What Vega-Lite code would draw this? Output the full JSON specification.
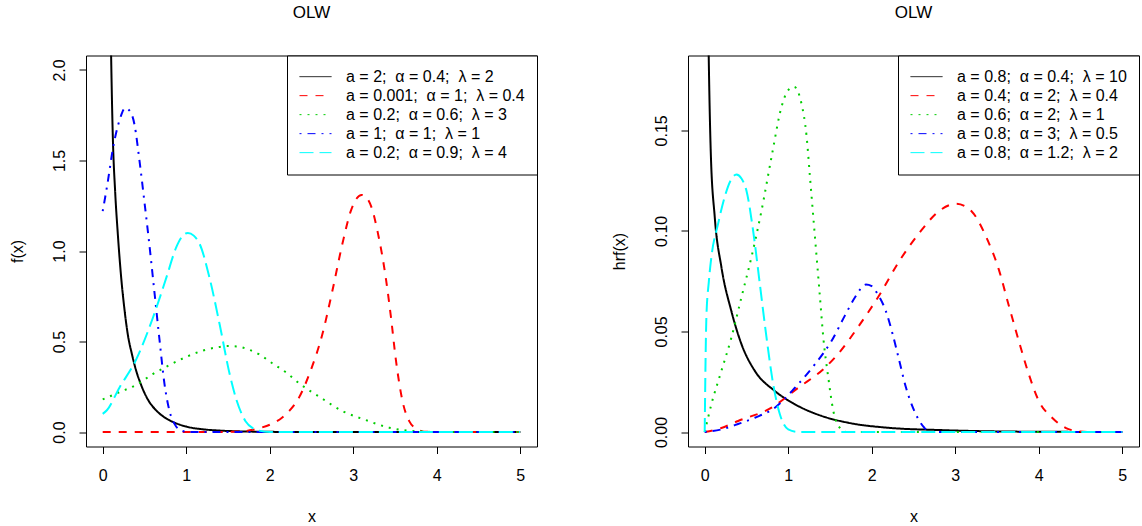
{
"$schema": "https://vega.github.io/schema/vega-lite/v6.json",
"autosize": {"type": "pad"},
"padding": {"left": 8, "top": 3.5, "right": 2, "bottom": 4},
"background": "white",
"bounds": "flush",
"spacing": 151,
"datasets": {
"leftLegend": [
{"c":1,"label":"a = 2;\u00a0\u00a0α = 0.4;\u00a0\u00a0λ = 2"},
{"c":2,"label":"a = 0.001;\u00a0\u00a0α = 1;\u00a0\u00a0λ = 0.4"},
{"c":3,"label":"a = 0.2;\u00a0\u00a0α = 0.6;\u00a0\u00a0λ = 3"},
{"c":4,"label":"a = 1;\u00a0\u00a0α = 1;\u00a0\u00a0λ = 1"},
{"c":5,"label":"a = 0.2;\u00a0\u00a0α = 0.9;\u00a0\u00a0λ = 4"}
],
"rightLegend": [
{"c":1,"label":"a = 0.8;\u00a0\u00a0α = 0.4;\u00a0\u00a0λ = 10"},
{"c":2,"label":"a = 0.4;\u00a0\u00a0α = 2;\u00a0\u00a0λ = 0.4"},
{"c":3,"label":"a = 0.6;\u00a0\u00a0α = 2;\u00a0\u00a0λ = 1"},
{"c":4,"label":"a = 0.8;\u00a0\u00a0α = 3;\u00a0\u00a0λ = 0.5"},
{"c":5,"label":"a = 0.8;\u00a0\u00a0α = 1.2;\u00a0\u00a0λ = 2"}
],
"left": [
{"c":1,"x":0.09,"y":2.4},{"c":1,"x":0.1,"y":2.1},{"c":1,"x":0.12,"y":1.65},{"c":1,"x":0.15,"y":1.32},{"c":1,"x":0.18,"y":1.1},{"c":1,"x":0.22,"y":0.86},{"c":1,"x":0.26,"y":0.68},{"c":1,"x":0.3,"y":0.54},{"c":1,"x":0.35,"y":0.43},{"c":1,"x":0.4,"y":0.34},{"c":1,"x":0.46,"y":0.26},{"c":1,"x":0.54,"y":0.18},{"c":1,"x":0.65,"y":0.115},{"c":1,"x":0.76,"y":0.075},{"c":1,"x":0.88,"y":0.048},{"c":1,"x":1.0,"y":0.03},{"c":1,"x":1.2,"y":0.015},{"c":1,"x":1.4,"y":0.008},{"c":1,"x":1.7,"y":0.003},{"c":1,"x":2.0,"y":0.001},{"c":1,"x":2.5,"y":0},{"c":1,"x":3,"y":0},{"c":1,"x":4,"y":0},{"c":1,"x":5,"y":0},
{"c":2,"x":0,"y":0},{"c":2,"x":0.5,"y":0},{"c":2,"x":1,"y":0},{"c":2,"x":1.5,"y":0.001},{"c":2,"x":1.7,"y":0.005},{"c":2,"x":1.8,"y":0.012},{"c":2,"x":1.9,"y":0.024},{"c":2,"x":2.0,"y":0.04},{"c":2,"x":2.15,"y":0.08},{"c":2,"x":2.25,"y":0.125},{"c":2,"x":2.35,"y":0.19},{"c":2,"x":2.49,"y":0.34},{"c":2,"x":2.63,"y":0.54},{"c":2,"x":2.75,"y":0.78},{"c":2,"x":2.87,"y":1.04},{"c":2,"x":2.97,"y":1.22},{"c":2,"x":3.04,"y":1.29},{"c":2,"x":3.1,"y":1.31},{"c":2,"x":3.16,"y":1.295},{"c":2,"x":3.22,"y":1.24},{"c":2,"x":3.29,"y":1.11},{"c":2,"x":3.39,"y":0.85},{"c":2,"x":3.45,"y":0.64},{"c":2,"x":3.51,"y":0.4},{"c":2,"x":3.59,"y":0.17},{"c":2,"x":3.67,"y":0.06},{"c":2,"x":3.77,"y":0.015},{"c":2,"x":3.85,"y":0.002},{"c":2,"x":4,"y":0},{"c":2,"x":4.5,"y":0},{"c":2,"x":5,"y":0},
{"c":3,"x":0,"y":0.18},{"c":3,"x":0.2,"y":0.22},{"c":3,"x":0.4,"y":0.26},{"c":3,"x":0.6,"y":0.32},{"c":3,"x":0.8,"y":0.37},{"c":3,"x":1.0,"y":0.415},{"c":3,"x":1.2,"y":0.45},{"c":3,"x":1.4,"y":0.47},{"c":3,"x":1.5,"y":0.475},{"c":3,"x":1.6,"y":0.473},{"c":3,"x":1.75,"y":0.455},{"c":3,"x":1.87,"y":0.43},{"c":3,"x":2.03,"y":0.38},{"c":3,"x":2.21,"y":0.324},{"c":3,"x":2.37,"y":0.263},{"c":3,"x":2.61,"y":0.19},{"c":3,"x":2.87,"y":0.116},{"c":3,"x":3.15,"y":0.066},{"c":3,"x":3.43,"y":0.024},{"c":3,"x":3.6,"y":0.01},{"c":3,"x":3.8,"y":0.003},{"c":3,"x":4,"y":0},{"c":3,"x":4.5,"y":0},{"c":3,"x":5,"y":0},
{"c":4,"x":0,"y":1.22},{"c":4,"x":0.06,"y":1.38},{"c":4,"x":0.12,"y":1.56},{"c":4,"x":0.2,"y":1.72},{"c":4,"x":0.27,"y":1.79},{"c":4,"x":0.33,"y":1.77},{"c":4,"x":0.38,"y":1.7},{"c":4,"x":0.44,"y":1.5},{"c":4,"x":0.5,"y":1.27},{"c":4,"x":0.56,"y":1.03},{"c":4,"x":0.62,"y":0.77},{"c":4,"x":0.68,"y":0.51},{"c":4,"x":0.74,"y":0.265},{"c":4,"x":0.8,"y":0.116},{"c":4,"x":0.86,"y":0.045},{"c":4,"x":0.92,"y":0.012},{"c":4,"x":1.0,"y":0.002},{"c":4,"x":1.1,"y":0},{"c":4,"x":2,"y":0},{"c":4,"x":3,"y":0},{"c":4,"x":4,"y":0},{"c":4,"x":5,"y":0},
{"c":5,"x":0,"y":0.1},{"c":5,"x":0.05,"y":0.12},{"c":5,"x":0.2,"y":0.245},{"c":5,"x":0.4,"y":0.4},{"c":5,"x":0.6,"y":0.63},{"c":5,"x":0.76,"y":0.85},{"c":5,"x":0.88,"y":1.02},{"c":5,"x":0.95,"y":1.08},{"c":5,"x":1.02,"y":1.1},{"c":5,"x":1.09,"y":1.085},{"c":5,"x":1.16,"y":1.04},{"c":5,"x":1.28,"y":0.85},{"c":5,"x":1.4,"y":0.595},{"c":5,"x":1.52,"y":0.32},{"c":5,"x":1.6,"y":0.18},{"c":5,"x":1.71,"y":0.06},{"c":5,"x":1.8,"y":0.02},{"c":5,"x":1.87,"y":0.008},{"c":5,"x":2,"y":0},{"c":5,"x":3,"y":0},{"c":5,"x":4,"y":0},{"c":5,"x":5,"y":0}
],
"right": [
{"c":1,"x":0.04,"y":0.21},{"c":1,"x":0.048,"y":0.187},{"c":1,"x":0.072,"y":0.14},{"c":1,"x":0.12,"y":0.107},{"c":1,"x":0.2,"y":0.082},{"c":1,"x":0.32,"y":0.06},{"c":1,"x":0.44,"y":0.0437},{"c":1,"x":0.6,"y":0.0304},{"c":1,"x":0.84,"y":0.0204},{"c":1,"x":1.08,"y":0.0138},{"c":1,"x":1.4,"y":0.008},{"c":1,"x":1.72,"y":0.0046},{"c":1,"x":2.2,"y":0.0021},{"c":1,"x":2.8,"y":0.001},{"c":1,"x":3.5,"y":0.0003},{"c":1,"x":4.2,"y":0.0001},{"c":1,"x":5,"y":0},
{"c":2,"x":0,"y":0},{"c":2,"x":0.2,"y":0.002},{"c":2,"x":0.4,"y":0.0055},{"c":2,"x":0.8,"y":0.0121},{"c":2,"x":1.12,"y":0.022},{"c":2,"x":1.44,"y":0.032},{"c":2,"x":1.6,"y":0.039},{"c":2,"x":1.85,"y":0.053},{"c":2,"x":2.09,"y":0.068},{"c":2,"x":2.33,"y":0.085},{"c":2,"x":2.57,"y":0.099},{"c":2,"x":2.81,"y":0.11},{"c":2,"x":3.01,"y":0.1135},{"c":2,"x":3.2,"y":0.1095},{"c":2,"x":3.37,"y":0.097},{"c":2,"x":3.52,"y":0.081},{"c":2,"x":3.64,"y":0.063},{"c":2,"x":3.76,"y":0.0454},{"c":2,"x":3.88,"y":0.0288},{"c":2,"x":4,"y":0.0155},{"c":2,"x":4.16,"y":0.0071},{"c":2,"x":4.32,"y":0.0021},{"c":2,"x":4.48,"y":0.0003},{"c":2,"x":4.6,"y":0},{"c":2,"x":5,"y":0},
{"c":3,"x":0,"y":0},{"c":3,"x":0.08,"y":0.0138},{"c":3,"x":0.2,"y":0.0304},{"c":3,"x":0.32,"y":0.047},{"c":3,"x":0.44,"y":0.067},{"c":3,"x":0.56,"y":0.087},{"c":3,"x":0.68,"y":0.11},{"c":3,"x":0.8,"y":0.1367},{"c":3,"x":0.92,"y":0.1617},{"c":3,"x":1.0,"y":0.17},{"c":3,"x":1.07,"y":0.1716},{"c":3,"x":1.16,"y":0.163},{"c":3,"x":1.22,"y":0.147},{"c":3,"x":1.26,"y":0.127},{"c":3,"x":1.3,"y":0.107},{"c":3,"x":1.34,"y":0.087},{"c":3,"x":1.38,"y":0.067},{"c":3,"x":1.42,"y":0.047},{"c":3,"x":1.48,"y":0.027},{"c":3,"x":1.54,"y":0.0105},{"c":3,"x":1.62,"y":0.002},{"c":3,"x":1.7,"y":0},{"c":3,"x":3,"y":0},{"c":3,"x":5,"y":0},
{"c":4,"x":0,"y":0},{"c":4,"x":0.2,"y":0.0013},{"c":4,"x":0.4,"y":0.004},{"c":4,"x":0.6,"y":0.0071},{"c":4,"x":0.84,"y":0.0121},{"c":4,"x":1.08,"y":0.022},{"c":4,"x":1.32,"y":0.0337},{"c":4,"x":1.52,"y":0.0454},{"c":4,"x":1.68,"y":0.058},{"c":4,"x":1.8,"y":0.067},{"c":4,"x":1.93,"y":0.0733},{"c":4,"x":2.0,"y":0.0725},{"c":4,"x":2.07,"y":0.0686},{"c":4,"x":2.17,"y":0.06},{"c":4,"x":2.25,"y":0.0487},{"c":4,"x":2.33,"y":0.0354},{"c":4,"x":2.41,"y":0.0221},{"c":4,"x":2.51,"y":0.0105},{"c":4,"x":2.63,"y":0.0021},{"c":4,"x":2.7,"y":0},{"c":4,"x":3,"y":0},{"c":4,"x":5,"y":0},
{"c":5,"x":0,"y":0},{"c":5,"x":0.01,"y":0.035},{"c":5,"x":0.02,"y":0.057},{"c":5,"x":0.05,"y":0.075},{"c":5,"x":0.08,"y":0.087},{"c":5,"x":0.16,"y":0.1035},{"c":5,"x":0.24,"y":0.117},{"c":5,"x":0.31,"y":0.125},{"c":5,"x":0.38,"y":0.128},{"c":5,"x":0.44,"y":0.126},{"c":5,"x":0.5,"y":0.12},{"c":5,"x":0.58,"y":0.1},{"c":5,"x":0.66,"y":0.0736},{"c":5,"x":0.74,"y":0.047},{"c":5,"x":0.82,"y":0.0238},{"c":5,"x":0.9,"y":0.0088},{"c":5,"x":1.0,"y":0.0013},{"c":5,"x":1.12,"y":0},{"c":5,"x":2,"y":0},{"c":5,"x":3,"y":0},{"c":5,"x":5,"y":0}
]
},
"hconcat": [
{
"width": 451,
"height": 391,
"title": {"text": "OLW"},
"data": {"name": "left"},
"transform": [{"lookup": "c", "from": {"data": {"name": "leftLegend"}, "key": "c", "fields": ["label"]}}],
"mark": {"type": "line", "clip": true, "strokeWidth": 2, "interpolate": "monotone"},
"encoding": {
"x": {"field": "x", "type": "quantitative", "scale": {"domain": [-0.2, 5.2], "nice": false, "zero": false}, "axis": {"values": [0,1,2,3,4,5], "format": "d", "title": "x"}},
"y": {"field": "y", "type": "quantitative", "scale": {"domain": [-0.08, 2.08], "nice": false, "zero": false}, "axis": {"values": [0,0.5,1,1.5,2], "format": ".1f", "title": "f(x)"}},
"color": {"field": "label", "type": "nominal", "scale": {"domain": ["a = 2;\u00a0\u00a0α = 0.4;\u00a0\u00a0λ = 2","a = 0.001;\u00a0\u00a0α = 1;\u00a0\u00a0λ = 0.4","a = 0.2;\u00a0\u00a0α = 0.6;\u00a0\u00a0λ = 3","a = 1;\u00a0\u00a0α = 1;\u00a0\u00a0λ = 1","a = 0.2;\u00a0\u00a0α = 0.9;\u00a0\u00a0λ = 4"], "range": ["#000000","#FF0000","#00CD00","#0000FF","#00FFFF"]}, "legend": {"title": null}},
"strokeDash": {"field": "label", "type": "nominal", "scale": {"domain": ["a = 2;\u00a0\u00a0α = 0.4;\u00a0\u00a0λ = 2","a = 0.001;\u00a0\u00a0α = 1;\u00a0\u00a0λ = 0.4","a = 0.2;\u00a0\u00a0α = 0.6;\u00a0\u00a0λ = 3","a = 1;\u00a0\u00a0α = 1;\u00a0\u00a0λ = 1","a = 0.2;\u00a0\u00a0α = 0.9;\u00a0\u00a0λ = 4"], "range": [[1,0],[8,8],[2,6],[2,6,8,6],[14,6]]}, "legend": {"title": null}}
}
},
{
"width": 451,
"height": 391,
"title": {"text": "OLW"},
"data": {"name": "right"},
"transform": [{"lookup": "c", "from": {"data": {"name": "rightLegend"}, "key": "c", "fields": ["label"]}}],
"mark": {"type": "line", "clip": true, "strokeWidth": 2, "interpolate": "monotone"},
"encoding": {
"x": {"field": "x", "type": "quantitative", "scale": {"domain": [-0.2, 5.2], "nice": false, "zero": false}, "axis": {"values": [0,1,2,3,4,5], "format": "d", "title": "x"}},
"y": {"field": "y", "type": "quantitative", "scale": {"domain": [-0.0072, 0.1872], "nice": false, "zero": false}, "axis": {"values": [0,0.05,0.1,0.15], "format": ".2f", "title": "hrf(x)"}},
"color": {"field": "label", "type": "nominal", "scale": {"domain": ["a = 0.8;\u00a0\u00a0α = 0.4;\u00a0\u00a0λ = 10","a = 0.4;\u00a0\u00a0α = 2;\u00a0\u00a0λ = 0.4","a = 0.6;\u00a0\u00a0α = 2;\u00a0\u00a0λ = 1","a = 0.8;\u00a0\u00a0α = 3;\u00a0\u00a0λ = 0.5","a = 0.8;\u00a0\u00a0α = 1.2;\u00a0\u00a0λ = 2"], "range": ["#000000","#FF0000","#00CD00","#0000FF","#00FFFF"]}, "legend": {"title": null}},
"strokeDash": {"field": "label", "type": "nominal", "scale": {"domain": ["a = 0.8;\u00a0\u00a0α = 0.4;\u00a0\u00a0λ = 10","a = 0.4;\u00a0\u00a0α = 2;\u00a0\u00a0λ = 0.4","a = 0.6;\u00a0\u00a0α = 2;\u00a0\u00a0λ = 1","a = 0.8;\u00a0\u00a0α = 3;\u00a0\u00a0λ = 0.5","a = 0.8;\u00a0\u00a0α = 1.2;\u00a0\u00a0λ = 2"], "range": [[1,0],[8,8],[2,6],[2,6,8,6],[14,6]]}, "legend": {"title": null}}
}
}
],
"resolve": {"scale": {"color": "independent", "strokeDash": "independent", "x": "independent", "y": "independent"}, "legend": {"color": "independent", "strokeDash": "independent"}},
"config": {
"font": "Liberation Sans",
"view": {"stroke": "#000000", "strokeWidth": 1},
"title": {"font": "Liberation Sans", "fontSize": 17, "fontWeight": "normal", "color": "#000000", "anchor": "middle", "baseline": "alphabetic", "offset": 33},
"axis": {"domain": false, "grid": false, "ticks": true, "tickColor": "#000000", "tickSize": 7, "tickWidth": 1, "labelColor": "#000000", "labelFont": "Liberation Sans", "labelFontSize": 16, "titleFont": "Liberation Sans", "titleFontSize": 16, "titleFontWeight": "normal", "titleColor": "#000000", "labelFlush": false, "labelOverlap": false},
"axisX": {"labelPadding": 14, "titlePadding": 25},
"axisY": {"labelAngle": 270, "labelAlign": "center", "labelBaseline": "alphabetic", "labelPadding": 15, "titlePadding": 26},
"legend": {"orient": "top-right", "offset": 0, "strokeColor": "#000000", "strokeWidth": 1, "fillColor": "#ffffff", "padding": 12, "symbolType": "stroke", "symbolSize": 1024, "symbolStrokeWidth": 1, "clipHeight": 18.3, "rowPadding": 0, "labelFontSize": 16, "labelFont": "Liberation Sans", "labelColor": "#000000", "labelOffset": 14, "labelLimit": 400, "cornerRadius": 0}
}
}
